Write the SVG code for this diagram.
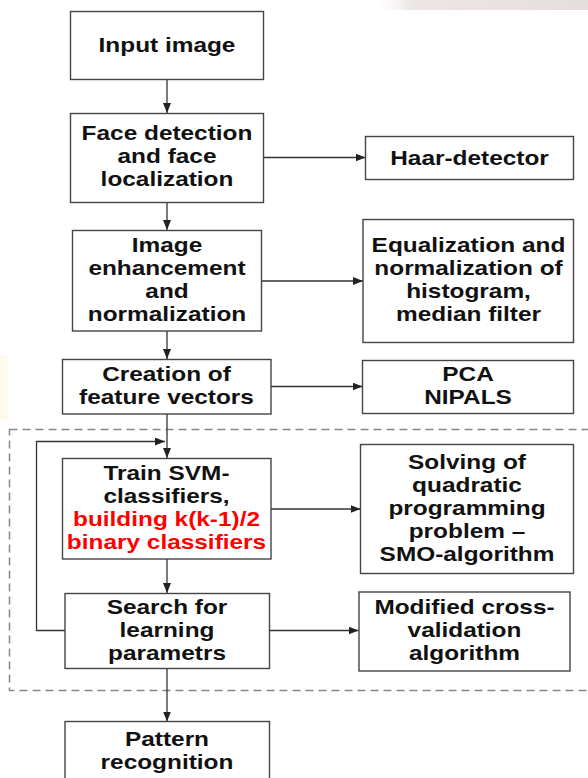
<svg xmlns="http://www.w3.org/2000/svg" width="588" height="778" viewBox="0 0 588 778">
<defs>
<linearGradient id="band" x1="0" y1="0" x2="1" y2="0">
<stop offset="0" stop-color="#f3eeee" stop-opacity="0"/>
<stop offset="0.15" stop-color="#ece6e4"/>
<stop offset="1" stop-color="#e6dede"/>
</linearGradient>
<marker id="ah" viewBox="0 0 10 8" refX="10" refY="4" markerWidth="10" markerHeight="8" markerUnits="userSpaceOnUse" orient="auto">
<path d="M0,0 L10,4 L0,8 Z" fill="#222"/>
</marker>
<style>
.box{fill:#fff;stroke:#444;stroke-width:1.4}
.t{font-family:"Liberation Sans",Arial,sans-serif;font-weight:bold;font-size:20px;fill:#111;text-anchor:middle}
.red{fill:#ff0000}
.c{fill:none;stroke:#333;stroke-width:1.3}
.dash{fill:none;stroke:#888;stroke-width:1.5;stroke-dasharray:8 5}
</style>
</defs>
<rect width="588" height="778" fill="#fff"/>
<rect x="380" y="0" width="208" height="10" fill="url(#band)"/>
<rect x="0" y="355" width="8" height="65" fill="#fffaec"/>

<rect class="dash" x="9.5" y="429.5" width="600" height="261"/>

<g id="connectors">
<line class="c" x1="167" y1="79.5" x2="167" y2="113" marker-end="url(#ah)"/>
<line class="c" x1="263.5" y1="157.5" x2="365.5" y2="157.5" marker-end="url(#ah)"/>
<line class="c" x1="167" y1="202.5" x2="167" y2="230" marker-end="url(#ah)"/>
<line class="c" x1="262" y1="281" x2="363" y2="281" marker-end="url(#ah)"/>
<line class="c" x1="167" y1="331" x2="167" y2="359" marker-end="url(#ah)"/>
<line class="c" x1="271" y1="386.5" x2="362.5" y2="386.5" marker-end="url(#ah)"/>
<line class="c" x1="167" y1="414" x2="167" y2="458" marker-end="url(#ah)"/>
<polyline class="c" points="65,630.5 36.5,630.5 36.5,441.5 165,441.5" marker-end="url(#ah)"/>
<line class="c" x1="271" y1="509" x2="360.5" y2="509" marker-end="url(#ah)"/>
<line class="c" x1="167" y1="559" x2="167" y2="593" marker-end="url(#ah)"/>
<line class="c" x1="269.5" y1="630.5" x2="358.5" y2="630.5" marker-end="url(#ah)"/>
<line class="c" x1="167" y1="668.5" x2="167" y2="721.5" marker-end="url(#ah)"/>
</g>

<g id="input">
<rect class="box" x="70.5" y="11.5" width="193" height="68"/>
<g transform="translate(167 0) scale(1.22 1)"><text class="t" x="0" y="52">Input image</text></g>
</g>
<g id="face">
<rect class="box" x="70.5" y="113.5" width="193" height="89"/>
<g transform="translate(167 0) scale(1.22 1)"><text class="t" x="0" y="140">Face detection</text><text class="t" x="0" y="163">and face</text><text class="t" x="0" y="186">localization</text></g>
</g>
<g id="haar">
<rect class="box" x="365.5" y="136.5" width="208" height="43"/>
<g transform="translate(469.5 0) scale(1.22 1)"><text class="t" x="0" y="165">Haar-detector</text></g>
</g>
<g id="enh">
<rect class="box" x="72.5" y="230.5" width="189" height="100.5"/>
<g transform="translate(167 0) scale(1.22 1)"><text class="t" x="0" y="252">Image</text><text class="t" x="0" y="275">enhancement</text><text class="t" x="0" y="298">and</text><text class="t" x="0" y="321">normalization</text></g>
</g>
<g id="equal">
<rect class="box" x="363" y="219.5" width="210.5" height="123"/>
<g transform="translate(468.5 0) scale(1.22 1)"><text class="t" x="0" y="252">Equalization and</text><text class="t" x="0" y="275">normalization of</text><text class="t" x="0" y="298">histogram,</text><text class="t" x="0" y="321">median filter</text></g>
</g>
<g id="creation">
<rect class="box" x="62.5" y="359.5" width="208.5" height="54.5"/>
<g transform="translate(166.5 0) scale(1.22 1)"><text class="t" x="0" y="381">Creation of</text><text class="t" x="0" y="404">feature vectors</text></g>
</g>
<g id="pca">
<rect class="box" x="362.5" y="360.5" width="211" height="53"/>
<g transform="translate(468 0) scale(1.22 1)"><text class="t" x="0" y="381">PCA</text><text class="t" x="0" y="404">NIPALS</text></g>
</g>
<g id="train">
<rect class="box" x="62.5" y="458.5" width="208.5" height="100.5"/>
<g transform="translate(166.5 0) scale(1.22 1)"><text class="t" x="0" y="480">Train SVM-</text><text class="t" x="0" y="503">classifiers,</text><text class="t red" x="0" y="526">building k(k-1)/2</text><text class="t red" x="0" y="549">binary classifiers</text></g>
</g>
<g id="solving">
<rect class="box" x="360.5" y="444.5" width="213" height="129"/>
<g transform="translate(467 0) scale(1.22 1)"><text class="t" x="0" y="469">Solving of</text><text class="t" x="0" y="492">quadratic</text><text class="t" x="0" y="515">programming</text><text class="t" x="0" y="538">problem –</text><text class="t" x="0" y="561">SMO-algorithm</text></g>
</g>
<g id="search">
<rect class="box" x="65" y="593.5" width="204.5" height="75"/>
<g transform="translate(167 0) scale(1.22 1)"><text class="t" x="0" y="614">Search for</text><text class="t" x="0" y="637">learning</text><text class="t" x="0" y="660">parametrs</text></g>
</g>
<g id="modified">
<rect class="box" x="359" y="592" width="211" height="79"/>
<g transform="translate(464.5 0) scale(1.22 1)"><text class="t" x="0" y="614">Modified cross-</text><text class="t" x="0" y="637">validation</text><text class="t" x="0" y="660">algorithm</text></g>
</g>
<g id="pattern">
<rect class="box" x="65" y="721.5" width="204.5" height="70"/>
<g transform="translate(167 0) scale(1.22 1)"><text class="t" x="0" y="746">Pattern</text><text class="t" x="0" y="769">recognition</text></g>
</g>
</svg>
